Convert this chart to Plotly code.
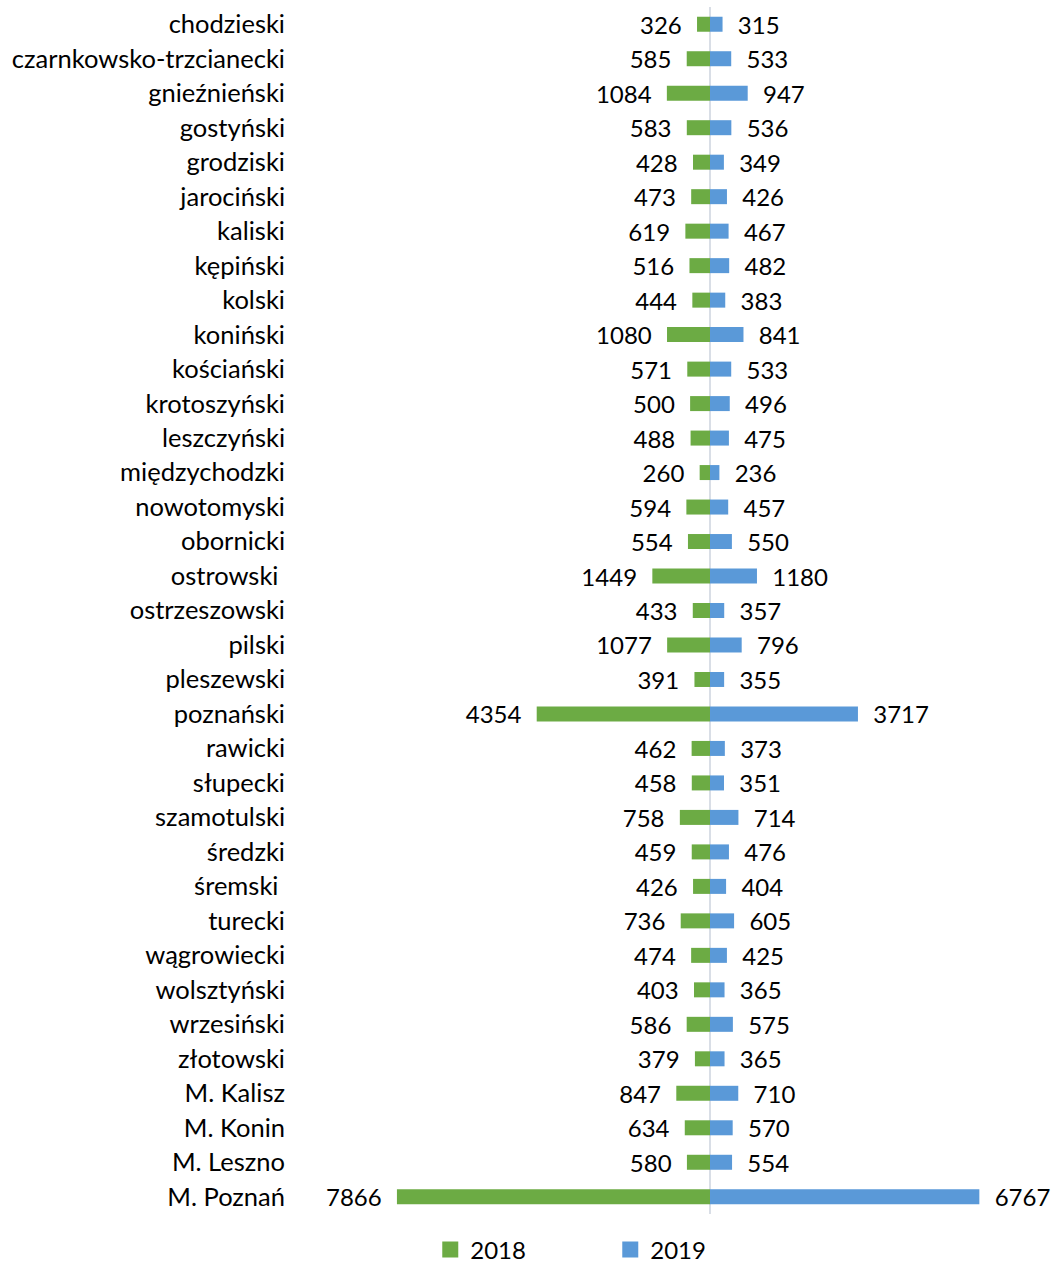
import plotly.graph_objects as go

categories = ["chodzieski", "czarnkowsko-trzcianecki", "gnieźnieński", "gostyński", "grodziski",
              "jarociński", "kaliski", "kępiński", "kolski", "koniński", "kościański", "krotoszyński",
              "leszczyński", "międzychodzki", "nowotomyski", "obornicki", "ostrowski ", "ostrzeszowski",
              "pilski", "pleszewski", "poznański", "rawicki", "słupecki", "szamotulski", "średzki",
              "śremski ", "turecki", "wągrowiecki", "wolsztyński", "wrzesiński", "złotowski",
              "M. Kalisz", "M. Konin", "M. Leszno", "M. Poznań"]
y2018 = [326, 585, 1084, 583, 428, 473, 619, 516, 444, 1080, 571, 500, 488, 260, 594, 554, 1449,
         433, 1077, 391, 4354, 462, 458, 758, 459, 426, 736, 474, 403, 586, 379, 847, 634, 580, 7866]
y2019 = [315, 533, 947, 536, 349, 426, 467, 482, 383, 841, 533, 496, 475, 236, 457, 550, 1180,
         357, 796, 355, 3717, 373, 351, 714, 476, 404, 605, 425, 365, 575, 365, 710, 570, 554, 6767]

FONT = "Lato"
GREEN = "#6CAB44"
BLUE = "#5A99D8"
NB = "\u00a0\u00a0"

fig = go.Figure()
fig.add_trace(go.Bar(
    name="2018", y=categories, x=[-v for v in y2018], orientation="h",
    marker=dict(color=GREEN, line=dict(width=0)),
    text=[str(v) + NB for v in y2018], textposition="outside", cliponaxis=False,
    constraintext="none", textfont=dict(family=FONT, size=24, color="#000000"),
    customdata=y2018, hovertemplate="%{y}: %{customdata}<extra>2018</extra>",
    showlegend=False,
))
fig.add_trace(go.Bar(
    name="2019", y=categories, x=y2019, orientation="h",
    marker=dict(color=BLUE, line=dict(width=0)),
    text=[NB + str(v) for v in y2019], textposition="outside", cliponaxis=False,
    constraintext="none", textfont=dict(family=FONT, size=24, color="#000000"),
    hovertemplate="%{y}: %{x}<extra>2019</extra>",
    showlegend=False,
))
# legend entries with larger square swatches
for nm, col in (("2018", GREEN), ("2019", BLUE)):
    fig.add_trace(go.Scatter(
        name=nm, x=[None], y=[None], mode="markers",
        marker=dict(symbol="square", size=17, color=col), showlegend=True,
    ))

fig.update_layout(
    width=1052, height=1265,
    barmode="overlay", bargap=0.565,
    paper_bgcolor="white", plot_bgcolor="white",
    margin=dict(l=295, r=12, t=7, b=51),
    font=dict(family=FONT, size=24, color="#000000"),
    showlegend=True,
    legend=dict(orientation="h", xref="container", x=0.409, xanchor="left",
                yref="container", y=0.012, yanchor="middle",
                font=dict(family=FONT, size=24), entrywidth=135, entrywidthmode="pixels"),
)
fig.update_xaxes(range=[-10427, 8291], showticklabels=False, showgrid=False,
                 zeroline=True, zerolinecolor="#D9DEE6", zerolinewidth=2, fixedrange=True)
fig.update_yaxes(autorange="reversed", showgrid=False, ticks="", ticklabelstandoff=9,
                 tickfont=dict(family=FONT, size=25.5, color="#000000"), showline=False)

fig.write_html("out.html", config={"displayModeBar": False},
               post_script="document.body.style.margin='0px';")
